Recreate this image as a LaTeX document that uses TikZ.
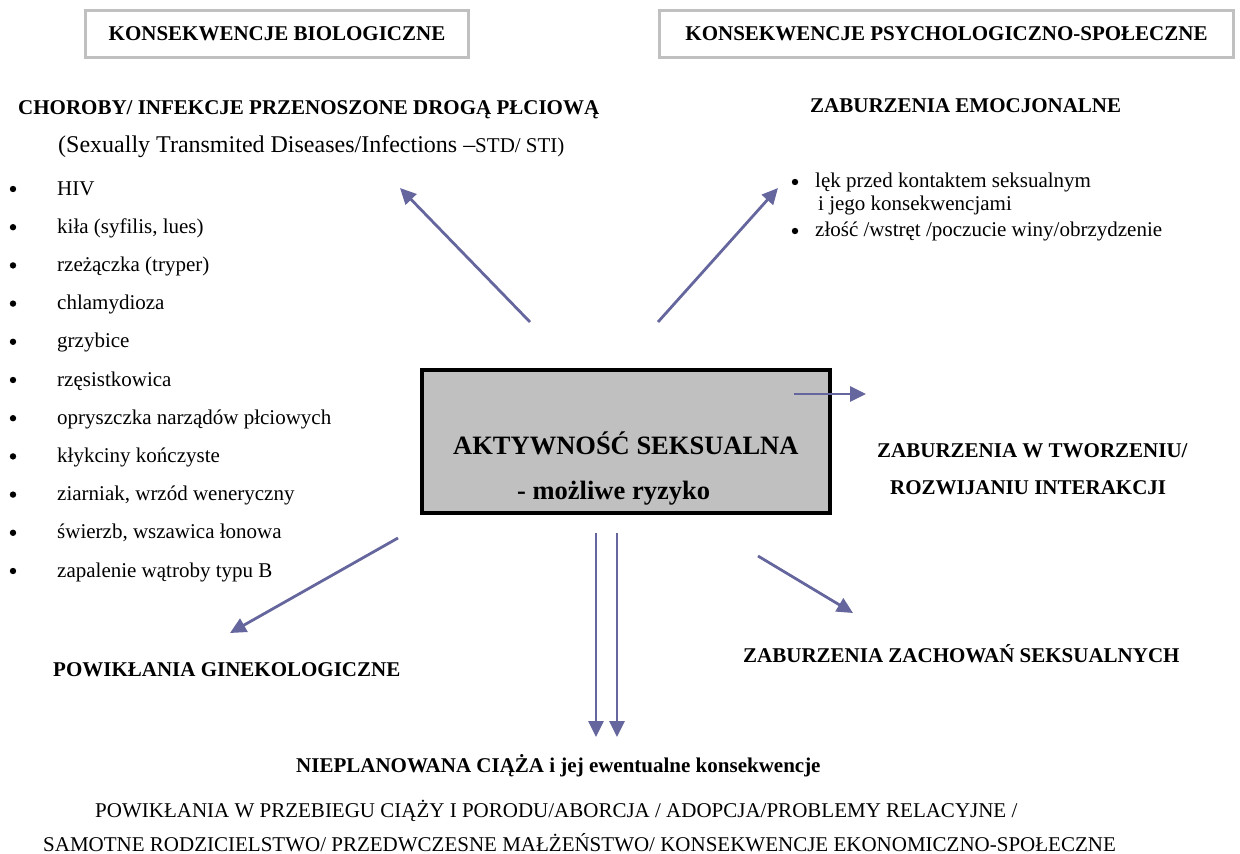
\documentclass[tikz,border=0pt]{standalone}
\usepackage{fontspec}
\setmainfont{Liberation Serif}
\usetikzlibrary{arrows.meta}
\definecolor{arr}{RGB}{102,102,158}
\definecolor{boxgray}{RGB}{192,192,192}
\begin{document}
\begin{tikzpicture}[x=1pt,y=-1pt,
  txt/.style={inner sep=0pt, anchor=base west, font=\fontsize{21}{25}\selectfont},
  bold/.style={inner sep=0pt, anchor=base west, font=\fontsize{21}{25}\selectfont\bfseries},
  arrowline/.style={draw=arr, line width=2.8pt, -{Triangle[length=16pt,width=15pt]}},
  catbox/.style={draw=boxgray, line width=3pt, inner sep=0pt, font=\fontsize{21}{25}\selectfont\bfseries},
  bullet/.style={fill=black},
]
\useasboundingbox (0,0) rectangle (1240,854);

% category boxes
\node[catbox, minimum width=383pt, minimum height=47pt] (bio) at (277,34) {KONSEKWENCJE BIOLOGICZNE};
\node[catbox, minimum width=574pt, minimum height=47pt] (psy) at (946.5,34) {KONSEKWENCJE PSYCHOLOGICZNO-SPOŁECZNE};

% central box
\node[draw=black, line width=4pt, fill=boxgray, minimum width=408pt, minimum height=143pt, inner sep=0pt] (core) at (626,441.5) {};
\node[bold, font=\fontsize{26.5}{30}\selectfont\bfseries] (core1) at (453,454) {AKTYWNOŚĆ SEKSUALNA};
\node[bold, font=\fontsize{26.5}{30}\selectfont\bfseries] (core2) at (517,499) {- możliwe ryzyko};

% left: STD
\node[bold] (std) at (18,114) {CHOROBY/ INFEKCJE PRZENOSZONE DROGĄ PŁCIOWĄ};
\node[txt, font=\fontsize{24}{28}\selectfont] (stdsub) at (58,152) {(Sexually Transmited Diseases/Infections –{\fontsize{21}{25}\selectfont STD/ STI)}};

\foreach \t [count=\i from 0] in {HIV, {kiła (syfilis, lues)}, {rzeżączka (tryper)}, chlamydioza, grzybice, rzęsistkowica, {opryszczka narządów płciowych}, {kłykciny kończyste}, {ziarniak, wrzód weneryczny}, {świerzb, wszawica łonowa}, {zapalenie wątroby typu B}}{
  \node[txt] (item\i) at (57,{195+38.2*\i}) {\t};
  \fill[bullet] (13,{189+38.2*\i}) circle (3.2);
}

% right: emotional
\node[bold] (emo) at (810,112) {ZABURZENIA EMOCJONALNE};
\node[txt] (emo1) at (815,187) {lęk przed kontaktem seksualnym};
\node[txt] (emo2) at (818,210) {i jego konsekwencjami};
\node[txt] (emo3) at (815,236) {złość /wstręt /poczucie winy/obrzydzenie};
\fill[bullet] (795,182) circle (3.2);
\fill[bullet] (795,231) circle (3.2);

% right: interactions
\node[bold] (int1) at (877,457) {ZABURZENIA W TWORZENIU/};
\node[bold] (int2) at (890,494) {ROZWIJANIU INTERAKCJI};

% sexual behaviour
\node[bold] (sexb) at (743,662) {ZABURZENIA ZACHOWAŃ SEKSUALNYCH};

% gynecological
\node[bold] (gin) at (53,676) {POWIKŁANIA GINEKOLOGICZNE};

% pregnancy
\node[bold] (preg) at (296,772) {NIEPLANOWANA CIĄŻA i jej ewentualne konsekwencje};
\node[txt] (preg1) at (95,817) {POWIKŁANIA W PRZEBIEGU CIĄŻY I PORODU/ABORCJA / ADOPCJA/PROBLEMY RELACYJNE /};
\node[txt] (preg2) at (43,851) {SAMOTNE RODZICIELSTWO/ PRZEDWCZESNE MAŁŻEŃSTWO/ KONSEKWENCJE EKONOMICZNO-SPOŁECZNE};

% arrow end points
\coordinate (ulS) at (530,322);
\coordinate (ulT) at (400,188);
\coordinate (urS) at (658,322);
\coordinate (urT) at (778,188);
\coordinate (rS) at (794,394);
\coordinate (rT) at (866,394);
\coordinate (dlS) at (398,538);
\coordinate (dlT) at (230,633);
\coordinate (drS) at (758,556);
\coordinate (drT) at (853,613);
\coordinate (d1S) at (596,533);
\coordinate (d1T) at (596,737);
\coordinate (d2S) at (617,533);
\coordinate (d2T) at (617,737);

\draw[arrowline] (ulS) -- (ulT);
\draw[arrowline] (urS) -- (urT);
\draw[arrowline] (rS) -- (rT);
\draw[arrowline] (dlS) -- (dlT);
\draw[arrowline] (drS) -- (drT);
\draw[arrowline] (d1S) -- (d1T);
\draw[arrowline] (d2S) -- (d2T);
\end{tikzpicture}
\end{document}
